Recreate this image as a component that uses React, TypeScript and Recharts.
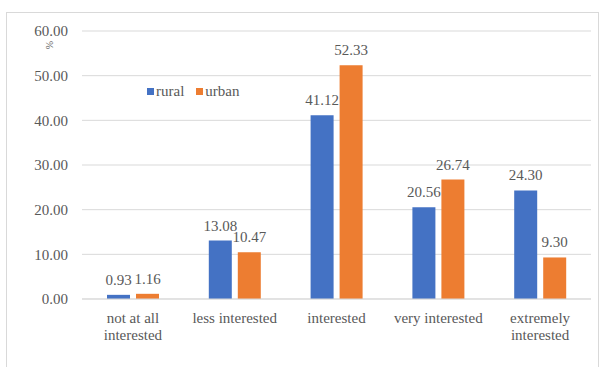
import React from 'react';
import {
  BarChart,
  Bar,
  XAxis,
  YAxis,
  CartesianGrid,
  Legend,
  LabelList,
  Label,
  Text,
} from 'recharts';

// Interest level by residence (%)
const categories = [
  'not at all interested',
  'less interested',
  'interested',
  'very interested',
  'extremely interested',
];
const rural = [0.93, 13.08, 41.12, 20.56, 24.3];
const urban = [1.16, 10.47, 52.33, 26.74, 9.3];
const yTicks = [0, 10, 20, 30, 40, 50, 60];

const FONT =
  "'Liberation Serif', 'Times New Roman', Times, Tinos, 'Noto Serif', 'DejaVu Serif', FreeSerif, serif";
const TEXT_COLOR = '#595959';
const BLUE = '#4472C4';
const ORANGE = '#ED7D31';

const data = categories.map((name, i) => ({
  name,
  rural: rural[i],
  urban: urban[i],
}));

// category labels wrap onto two lines when they are too wide
const CategoryTick = (props: any) => {
  const { x, y, payload } = props;
  return (
    <Text
      x={x}
      y={y + 13}
      width={95}
      textAnchor="middle"
      verticalAnchor="start"
      lineHeight={17}
      style={{ fontFamily: FONT }}
      fontSize={15}
      fill={TEXT_COLOR}
    >
      {payload.value}
    </Text>
  );
};

const LegendContent = () => (
  <div style={{ display: 'flex', alignItems: 'center', fontFamily: FONT, fontSize: 15, color: TEXT_COLOR }}>
    <span style={{ width: 7, height: 7, background: BLUE, display: 'inline-block', marginRight: 2 }} />
    <span style={{ marginRight: 12 }}>rural</span>
    <span style={{ width: 7, height: 7, background: ORANGE, display: 'inline-block', marginRight: 2 }} />
    <span>urban</span>
  </div>
);

const UnitLabel = (props: any) => {
  const { viewBox } = props;
  const x = viewBox.x + 49;
  const y = viewBox.y + 14;
  return (
    <text
      x={x}
      y={y}
      transform={`rotate(-90 ${x} ${y})`}
      textAnchor="middle"
      dominantBaseline="central"
      style={{ fontFamily: FONT }}
      fontSize={10}
      fill={TEXT_COLOR}
    >
      %
    </text>
  );
};

const labelStyle = { fontFamily: FONT, fontSize: 15, fill: TEXT_COLOR };

export default function App() {
  return (
    <div
      style={{
        position: 'absolute',
        left: 0,
        top: 0,
        width: 608,
        height: 367,
        overflow: 'hidden',
        background: '#fff',
        fontFamily: FONT,
      }}
    >
      <div
        style={{
          position: 'absolute',
          left: 6,
          top: 12,
          width: 593,
          height: 400,
          border: '1px solid #D9D9D9',
          boxSizing: 'border-box',
        }}
      />
      <div style={{ position: 'absolute', left: 0, top: 0 }}>
        <BarChart
          width={608}
          height={367}
          data={data}
          margin={{ top: 31, right: 17, bottom: 0, left: 0 }}
          barSize={23}
          barGap={6}
          style={{ fontFamily: FONT }}
        >
          <CartesianGrid vertical={false} stroke="#D9D9D9" />
          <XAxis
            dataKey="name"
            height={51}
            axisLine={{ stroke: '#D9D9D9' }}
            tickLine={false}
            tickSize={0}
            tickMargin={0}
            interval={0}
            tick={<CategoryTick />}
          />
          <YAxis
            width={82}
            domain={[0, 60]}
            ticks={yTicks}
            axisLine={false}
            tickLine={false}
            tickSize={6}
            tickMargin={8}
            tickFormatter={(v: number) => v.toFixed(2)}
            tick={{ style: { fontFamily: FONT }, fontSize: 15, fill: TEXT_COLOR }}
          >
            <Label content={<UnitLabel />} />
          </YAxis>
          <Legend
            content={<LegendContent />}
            wrapperStyle={{ position: 'absolute', left: 147, top: 83, width: 'auto' }}
          />
          <Bar dataKey="rural" fill={BLUE} isAnimationActive={false}>
            <LabelList
              dataKey="rural"
              position="top"
              offset={10}
              formatter={(v: number) => v.toFixed(2)}
              style={labelStyle}
            />
          </Bar>
          <Bar dataKey="urban" fill={ORANGE} isAnimationActive={false}>
            <LabelList
              dataKey="urban"
              position="top"
              offset={10}
              formatter={(v: number) => v.toFixed(2)}
              style={labelStyle}
            />
          </Bar>
        </BarChart>
      </div>
    </div>
  );
}
